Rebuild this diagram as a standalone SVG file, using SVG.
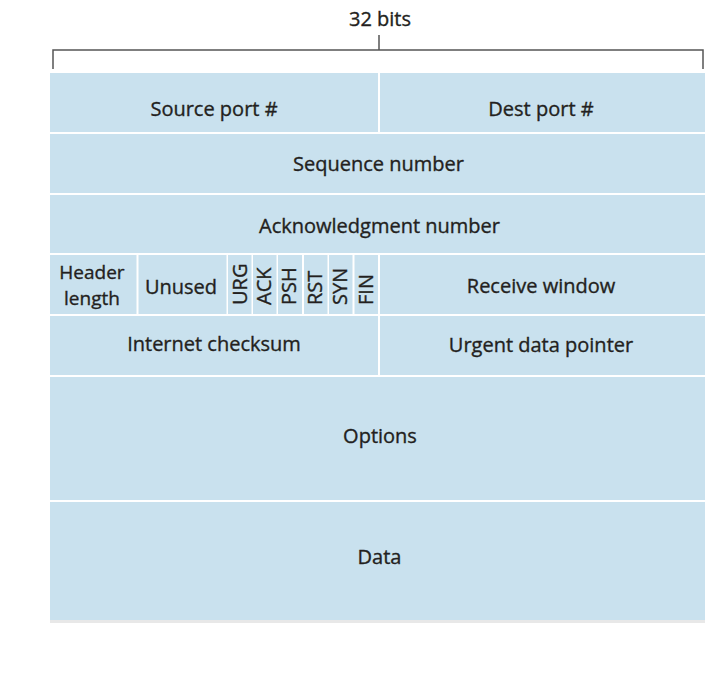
<svg xmlns="http://www.w3.org/2000/svg" width="720" height="680" viewBox="0 0 720 680">
<style>
.cell{fill:#c9e1ee}
.t{font-family:"Open Sans","Noto Sans",sans-serif;font-size:20px;fill:#231f20;stroke:#231f20;stroke-width:0.35;text-anchor:middle}
.s{font-size:19px}
.f{font-family:"Open Sans","Noto Sans",sans-serif;font-size:20px;fill:#231f20;stroke:#231f20;stroke-width:0.35;text-anchor:start}
.br{fill:none;stroke:#555;stroke-width:1.5}
</style>
<rect width="720" height="680" fill="#ffffff"/>
<g id="connectors">
<path class="br" d="M53,69 V50 H703 V69"/>
<path class="br" d="M379,35 V50"/>
</g>
<g id="label-32bits"><text class="t" x="380" y="26">32 bits</text></g>
<rect x="50" y="620" width="655" height="3" fill="#e8e8e8"/>
<g id="source-port"><rect class="cell" x="50" y="73" width="328" height="59"/><text class="t" x="214" y="115.5">Source port #</text></g>
<g id="dest-port"><rect class="cell" x="380" y="73" width="325" height="59"/><text class="t" x="541" y="115.5">Dest port #</text></g>
<g id="sequence-number"><rect class="cell" x="50" y="134" width="655" height="59"/><text class="t" x="378.5" y="171">Sequence number</text></g>
<g id="ack-number"><rect class="cell" x="50" y="195" width="655" height="58"/><text class="t" x="379.5" y="233">Acknowledgment number</text></g>
<g id="header-length"><rect class="cell" x="50" y="255" width="86.5" height="59"/><text class="t s" x="92" y="278.5">Header</text><text class="t s" x="92" y="304.5">length</text></g>
<g id="unused"><rect class="cell" x="138.5" y="255" width="88" height="59"/><text class="t" x="181" y="294">Unused</text></g>
<g id="flag-urg"><rect class="cell" x="228" y="255" width="23.5" height="59"/><text class="f" transform="translate(246.5,305) rotate(-90)">URG</text></g>
<g id="flag-ack"><rect class="cell" x="253" y="255" width="23.5" height="59"/><text class="f" transform="translate(271,305) rotate(-90)">ACK</text></g>
<g id="flag-psh"><rect class="cell" x="278" y="255" width="24" height="59"/><text class="f" transform="translate(296,305) rotate(-90)">PSH</text></g>
<g id="flag-rst"><rect class="cell" x="304" y="255" width="23.5" height="59"/><text class="f" transform="translate(322,305) rotate(-90)">RST</text></g>
<g id="flag-syn"><rect class="cell" x="329" y="255" width="23.5" height="59"/><text class="f" transform="translate(347,305) rotate(-90)">SYN</text></g>
<g id="flag-fin"><rect class="cell" x="354.5" y="255" width="23.5" height="59"/><text class="f" transform="translate(373,305) rotate(-90)">FIN</text></g>
<g id="receive-window"><rect class="cell" x="380" y="255" width="325" height="59"/><text class="t" x="541" y="293">Receive window</text></g>
<g id="internet-checksum"><rect class="cell" x="50" y="316" width="328" height="59"/><text class="t" x="214" y="351">Internet checksum</text></g>
<g id="urgent-pointer"><rect class="cell" x="380" y="316" width="325" height="59"/><text class="t" x="541" y="352">Urgent data pointer</text></g>
<g id="options"><rect class="cell" x="50" y="377" width="655" height="123"/><text class="t" x="380" y="443">Options</text></g>
<g id="data"><rect class="cell" x="50" y="502" width="655" height="118"/><text class="t" x="379.5" y="564">Data</text></g>
</svg>
